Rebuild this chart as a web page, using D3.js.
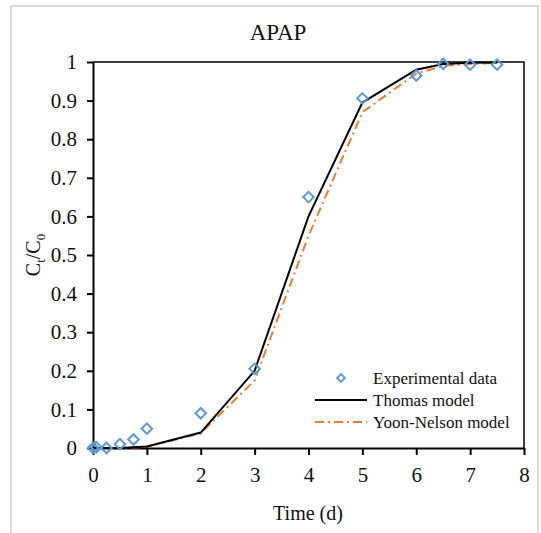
<!DOCTYPE html>
<meta charset="utf-8">
<style>
body { margin: 0; background: #fff; }
svg text { font-family: 'Liberation Serif', 'Times New Roman', serif; fill: #111; }
.axis path, .axis line { stroke: #000; stroke-width: 2px; }
</style>
<svg id="svg" width="541" height="533"></svg>
<script src="https://cdn.jsdelivr.net/npm/d3@7"></script>
<script>
// experimental points
let expT = [0, 0.06, 0.25, 0.5, 0.75, 1, 2, 3, 4, 5, 6, 6.5, 7, 7.5]
let expC = [0, 0.002, 0, 0.01, 0.022, 0.05, 0.09, 0.205, 0.65, 0.906, 0.965, 0.995, 0.993, 0.993]

// model curves
let modelT = [0, 0.5, 1, 2, 3, 4, 5, 6, 6.5, 7, 7.5]
let thomasC = [0, 0, 0.004, 0.04, 0.2, 0.6, 0.895, 0.98, 0.995, 0.998, 0.999]
let yoonC = [0, 0, 0.003, 0.038, 0.175, 0.55, 0.87, 0.97, 0.99, 0.995, 0.998]

let xTicks = [0, 1, 2, 3, 4, 5, 6, 7, 8]
let yTicks = [0, 0.1, 0.2, 0.3, 0.4, 0.5, 0.6, 0.7, 0.8, 0.9, 1]

let legendLabels = ['Experimental data', 'Thomas model', 'Yoon-Nelson model']

const serif = "'Liberation Serif', 'Times New Roman', serif"

function translate(x, y) { return 'translate(' + x + ',' + y + ')' }

let svg = d3.select('#svg')

// outer chart border (light gray)
svg.append('rect')
    .attr('x', 11).attr('y', 6)
    .attr('width', 527).attr('height', 540)
    .attr('fill', 'none')
    .attr('stroke', '#d9d9d9')
    .attr('stroke-width', 2)

let x = d3.scaleLinear().domain([0, 8]).range([93, 524])
let y = d3.scaleLinear().domain([0, 1]).range([448, 62])

// frame top / right
svg.append('path')
    .attr('d', 'M' + x(0) + ',' + y(1) + 'H' + x(8) + 'V' + y(0))
    .attr('fill', 'none')
    .attr('stroke', '#000')
    .attr('stroke-width', 1.5)

svg.append('g')
    .attr('class', 'axis')
    .attr('transform', translate(0, y(0)))
    .call(d3.axisBottom(x).tickValues(xTicks).tickSize(7).tickPadding(12).tickSizeOuter(0).tickFormat(d3.format('d')))
    .attr('font-family', serif)
    .attr('font-size', 21)

svg.append('g')
    .attr('class', 'axis')
    .attr('transform', translate(x(0), 0))
    .call(d3.axisLeft(y).tickValues(yTicks).tickSize(6).tickPadding(10).tickSizeOuter(0).tickFormat(d => d === 0 || d === 1 ? d : d3.format('.1f')(d)))
    .attr('font-family', serif)
    .attr('font-size', 21)

// titles
svg.append('text')
    .attr('x', 278).attr('y', 40)
    .attr('text-anchor', 'middle')
    .style('font-size', '23px')
    .text('APAP')

svg.append('text')
    .attr('x', 308).attr('y', 520)
    .attr('text-anchor', 'middle')
    .style('font-size', '20px')
    .text('Time (d)')

let yt = svg.append('text')
    .attr('transform', translate(40, 255) + ' rotate(-90)')
    .attr('text-anchor', 'middle')
    .style('font-size', '20px')
yt.append('tspan').text('C')
yt.append('tspan').attr('dy', 5).style('font-size', '13px').text('t')
yt.append('tspan').attr('dy', -5).text('/C')
yt.append('tspan').attr('dy', 5).style('font-size', '13px').text('0')

let line = d3.line()
    .x(d => x(d[0]))
    .y(d => y(d[1]))

svg.append('path')
    .attr('d', line(modelT.map((t, i) => [t, yoonC[i]])))
    .attr('fill', 'none')
    .attr('stroke', '#ed7d31')
    .attr('stroke-width', 2)
    .attr('stroke-dasharray', '9 4 2 4')

svg.append('path')
    .attr('d', line(modelT.map((t, i) => [t, thomasC[i]])))
    .attr('fill', 'none')
    .attr('stroke', '#000')
    .attr('stroke-width', 2)

let diamond = d3.symbol().type(d3.symbolSquare).size(55)

svg.selectAll('.pt')
    .data(expT.map((t, i) => [t, expC[i]]))
    .enter().append('path')
    .attr('class', 'pt')
    .attr('d', diamond)
    .attr('transform', d => translate(x(d[0]), y(d[1])) + ' rotate(45)')
    .attr('fill', 'none')
    .attr('stroke', '#5b9bd5')
    .attr('stroke-width', 2)

// legend
let lg = svg.append('g').attr('transform', translate(315, 378))
let rows = lg.selectAll('g')
    .data(legendLabels)
    .enter().append('g')
    .attr('transform', (d, i) => translate(0, i * 22))

rows.append('text')
    .attr('x', 58).attr('y', 6)
    .style('font-size', '17px')
    .text(d => d)

rows.filter((d, i) => i === 0).append('path')
    .attr('d', d3.symbol().type(d3.symbolSquare).size(30))
    .attr('transform', translate(26, 0) + ' rotate(45)')
    .attr('fill', 'none')
    .attr('stroke', '#5b9bd5')
    .attr('stroke-width', 2)

rows.filter((d, i) => i > 0).append('line')
    .attr('x1', 0).attr('x2', 52)
    .attr('stroke', (d, i) => i === 0 ? '#000' : '#ed7d31')
    .attr('stroke-width', 2)
    .attr('stroke-dasharray', (d, i) => i === 0 ? null : '9 4 2 4')
</script>
